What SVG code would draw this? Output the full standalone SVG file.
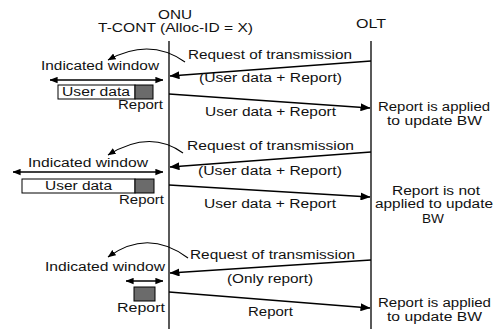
<svg xmlns="http://www.w3.org/2000/svg" width="497" height="329" viewBox="0 0 497 329">
<defs>
<marker id="ah" viewBox="0 0 10 8" refX="9.5" refY="4" markerWidth="10" markerHeight="8" markerUnits="userSpaceOnUse" orient="auto-start-reverse">
<path d="M0,0 L10,4 L0,8 Z" fill="#000"/>
</marker>
<marker id="ahs" viewBox="0 0 10 8" refX="9.5" refY="4" markerWidth="8" markerHeight="7" markerUnits="userSpaceOnUse" orient="auto-start-reverse">
<path d="M0,0 L10,4 L0,8 Z" fill="#000"/>
</marker>
</defs>
<style>
text{font-family:"Liberation Sans",Arial,sans-serif;font-size:12.5px;fill:#111}
.ln{stroke:#000;stroke-width:1.3;fill:none}
.msg{stroke:#000;stroke-width:1.4;fill:none;marker-end:url(#ah)}
.crv{stroke:#000;stroke-width:1.1;fill:none;marker-end:url(#ahs)}
.dbl{stroke:#000;stroke-width:1.3;fill:none;marker-start:url(#ahs);marker-end:url(#ahs)}
.ud{fill:#fff;stroke:#000;stroke-width:1}
.rp{fill:#6b6b6b;stroke:#000;stroke-width:1}
.m{text-anchor:middle}
</style>
<rect width="497" height="329" fill="#fff"/>

<g id="onu">
<text x="175" y="19" class="m" textLength="34" lengthAdjust="spacingAndGlyphs">ONU</text>
<text x="98" y="32" textLength="155" lengthAdjust="spacingAndGlyphs">T-CONT (Alloc-ID = X)</text>
<line class="ln" x1="169" y1="41" x2="169" y2="329"/>
</g>
<g id="olt">
<text x="371" y="28" class="m" textLength="30" lengthAdjust="spacingAndGlyphs">OLT</text>
<line class="ln" x1="371" y1="41" x2="371" y2="329"/>
</g>

<g id="connectors">
<line class="msg" x1="371" y1="61" x2="170" y2="76"/>
<line class="msg" x1="169" y1="94" x2="370" y2="108"/>
<line class="msg" x1="371" y1="152" x2="170" y2="167"/>
<line class="msg" x1="169" y1="185" x2="370" y2="197"/>
<line class="msg" x1="371" y1="260" x2="170" y2="273"/>
<line class="msg" x1="169" y1="292" x2="370" y2="308"/>
<path class="crv" d="M185,62 Q150,37 108,60"/>
<path class="crv" d="M183,153 Q150,129 108,155"/>
<path class="crv" d="M188,258 Q148,228 108,257"/>
</g>

<g id="step1">
<text x="188" y="59" textLength="164" lengthAdjust="spacingAndGlyphs">Request of transmission</text>
<text x="199" y="82" textLength="143" lengthAdjust="spacingAndGlyphs">(User data + Report)</text>
<text x="41" y="70" textLength="118" lengthAdjust="spacingAndGlyphs">Indicated window</text>
<line class="dbl" x1="50" y1="80" x2="163" y2="80"/>
<rect class="ud" x="58" y="85" width="77" height="14"/>
<rect class="rp" x="135" y="85" width="18" height="14"/>
<text x="62" y="96" textLength="68" lengthAdjust="spacingAndGlyphs">User data</text>
<text x="118" y="109" textLength="45" lengthAdjust="spacingAndGlyphs">Report</text>
<text x="205" y="116" textLength="131" lengthAdjust="spacingAndGlyphs">User data + Report</text>
<text x="378" y="111" textLength="112" lengthAdjust="spacingAndGlyphs">Report is applied</text>
<text x="387" y="125" textLength="95" lengthAdjust="spacingAndGlyphs">to update BW</text>
</g>

<g id="step2">
<text x="187" y="150" textLength="167" lengthAdjust="spacingAndGlyphs">Request of transmission</text>
<text x="198" y="175" textLength="144" lengthAdjust="spacingAndGlyphs">(User data + Report)</text>
<text x="28" y="167" textLength="120" lengthAdjust="spacingAndGlyphs">Indicated window</text>
<line class="dbl" x1="13" y1="172" x2="163" y2="172"/>
<rect class="ud" x="22" y="179" width="113" height="14"/>
<rect class="rp" x="135" y="179" width="19" height="14"/>
<text x="45" y="190" textLength="67" lengthAdjust="spacingAndGlyphs">User data</text>
<text x="119" y="204" textLength="45" lengthAdjust="spacingAndGlyphs">Report</text>
<text x="204" y="208" textLength="132" lengthAdjust="spacingAndGlyphs">User data + Report</text>
<text x="436" y="195" class="m" textLength="88" lengthAdjust="spacingAndGlyphs">Report is not</text>
<text x="434" y="208" class="m" textLength="118" lengthAdjust="spacingAndGlyphs">applied to update</text>
<text x="422" y="223" textLength="22" lengthAdjust="spacingAndGlyphs">BW</text>
</g>

<g id="step3">
<text x="190" y="259" textLength="165" lengthAdjust="spacingAndGlyphs">Request of transmission</text>
<text x="227" y="283" textLength="86" lengthAdjust="spacingAndGlyphs">(Only report)</text>
<text x="45" y="271" textLength="120" lengthAdjust="spacingAndGlyphs">Indicated window</text>
<line class="dbl" x1="126" y1="281" x2="163" y2="281"/>
<rect class="rp" x="134" y="287" width="21" height="14"/>
<text x="117" y="312" textLength="48" lengthAdjust="spacingAndGlyphs">Report</text>
<text x="248" y="316" textLength="45" lengthAdjust="spacingAndGlyphs">Report</text>
<text x="378" y="307" textLength="113" lengthAdjust="spacingAndGlyphs">Report is applied</text>
<text x="387" y="321" textLength="95" lengthAdjust="spacingAndGlyphs">to update BW</text>
</g>
</svg>
